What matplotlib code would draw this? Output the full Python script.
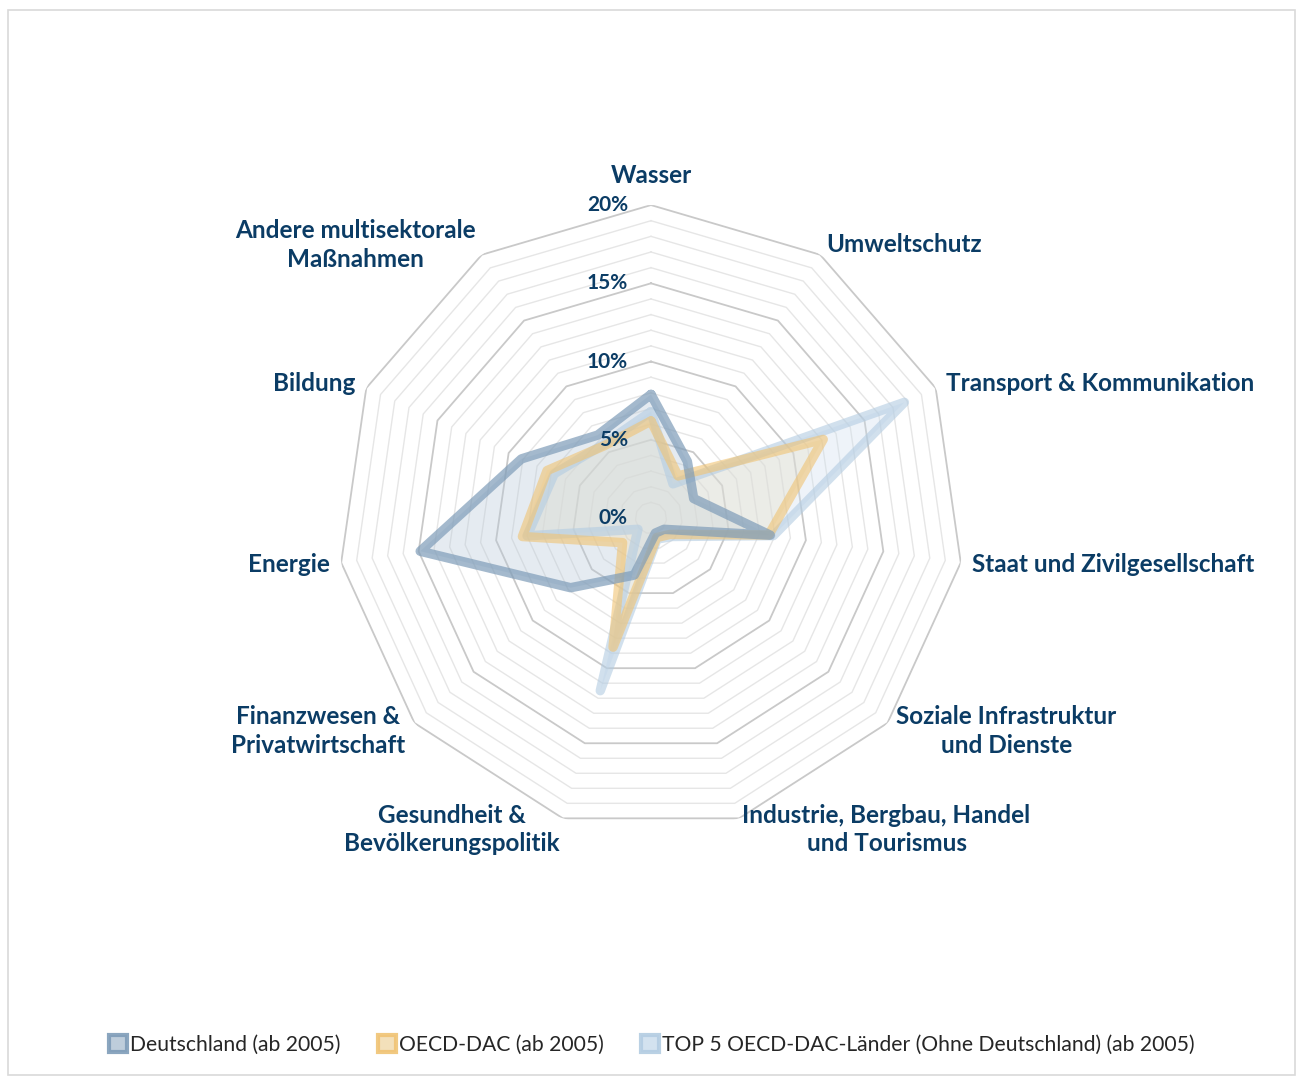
import numpy as np
import matplotlib
matplotlib.use("Agg")
import matplotlib.pyplot as plt
from matplotlib.patches import Patch, Rectangle
from matplotlib.transforms import offset_copy

categories = ["Wasser", "Umweltschutz", "Transport & Kommunikation",
              "Staat und Zivilgesellschaft", "Soziale Infrastruktur\nund Dienste",
              "Industrie, Bergbau, Handel\nund Tourismus", "Gesundheit &\nBevölkerungspolitik",
              "Finanzwesen &\nPrivatwirtschaft", "Energie", "Bildung",
              "Andere multisektorale\nMaßnahmen"]
deutschland = [7.9, 4.3, 3.0, 7.7, 1.1, 1.0, 3.8, 6.8, 14.9, 9.1, 6.3]
oecd_dac = [6.2, 3.2, 12.1, 7.6, 1.6, 1.3, 8.6, 2.4, 8.3, 7.3, 5.5]
top5 = [6.8, 2.6, 17.8, 7.9, 1.8, 1.4, 11.5, 1.1, 8.0, 6.8, 5.6]
series_names = ["Deutschland (ab 2005)", "OECD-DAC (ab 2005)",
                "TOP 5 OECD-DAC-Länder (Ohne Deutschland) (ab 2005)"]
tick_values = [0, 5, 10, 15, 20]
tick_labels = ["0%", "5%", "10%", "15%", "20%"]

navy = "#0B3C65"
plt.rcParams['font.family'] = ['Lato', 'DejaVu Sans']

fig = plt.figure(figsize=(12.96, 10.77), dpi=100)
fig.patches.append(Rectangle((8/1296, 2/1077), 1287/1296, 1065/1077, transform=fig.transFigure,
                             fill=False, edgecolor="#D9D9D9", linewidth=1.2))
ax = fig.add_axes([0.2608, 0.2284, 0.483, 0.5812], projection='polar')
ax.set_theta_zero_location('N')
ax.set_theta_direction(-1)
ax.set_ylim(0, 20)
ax.grid(False)
ax.set_xticks([])
ax.set_yticks([])
ax.spines['polar'].set_visible(False)
ax.patch.set_alpha(0)

n = len(categories)
angles = np.linspace(0, 2 * np.pi, n, endpoint=False)
closed = np.concatenate([angles, angles[:1]])

# grid polygons
for lvl in range(1, 21):
    major = lvl % 5 == 0
    ax.plot(closed, [lvl] * (n + 1), color="#C9C9C9" if major else "#E6E6E6",
            lw=1.3 if major else 1.0, zorder=1)

styles = [
    (deutschland, "#7E9CB8", "#B7C8D8", 0.35, 0.7),
    (oecd_dac, "#F0C373", "#F2DDB3", 0.35, 0.6),
    (top5, "#B3CCE2", "#CFDFEE", 0.35, 0.6),
]
for vals, lc, fc, fa, la in styles:
    v = list(vals) + [vals[0]]
    ax.fill(closed, v, color=fc, alpha=fa, zorder=2, lw=0)
for vals, lc, fc, fa, la in reversed(styles):
    v = list(vals) + [vals[0]]
    ax.plot(closed, v, color=lc, alpha=la, lw=6.8, solid_joinstyle='round',
            solid_capstyle='round', zorder=3)

# radial tick labels
tr = offset_copy(ax.transData, fig=fig, x=-23, y=0, units='dots')
for tv, tl in zip(tick_values, tick_labels):
    ax.text(0, tv, tl, transform=tr, ha='right', va='center', fontsize=15,
            fontweight='bold', color=navy, zorder=5)

# category labels
for ang, lab in zip(angles, categories):
    deg = np.degrees(ang)
    if deg < 1:
        ax.text(ang, 21.15, lab, ha='center', va='bottom', fontsize=17.5, fontweight='bold',
                color=navy, multialignment='center')
    else:
        ha = 'left' if deg < 180 else 'right'
        ax.text(ang, 20.75, lab, ha=ha, va='center', fontsize=17.5, fontweight='bold',
                color=navy, multialignment='center', linespacing=1.3)

handles = [Patch(facecolor=fc, edgecolor=lc, linewidth=3, alpha=0.9)
           for vals, lc, fc, fa, la in styles]
fig.legend(handles, series_names, loc='center', bbox_to_anchor=(0.503, 1 - 1045/1077),
           ncol=3, frameon=False, fontsize=15.2, handlelength=0.85, handleheight=0.85,
           handletextpad=0.15, columnspacing=1.75, labelcolor="#262626")

fig.savefig("out.png", dpi=100)
